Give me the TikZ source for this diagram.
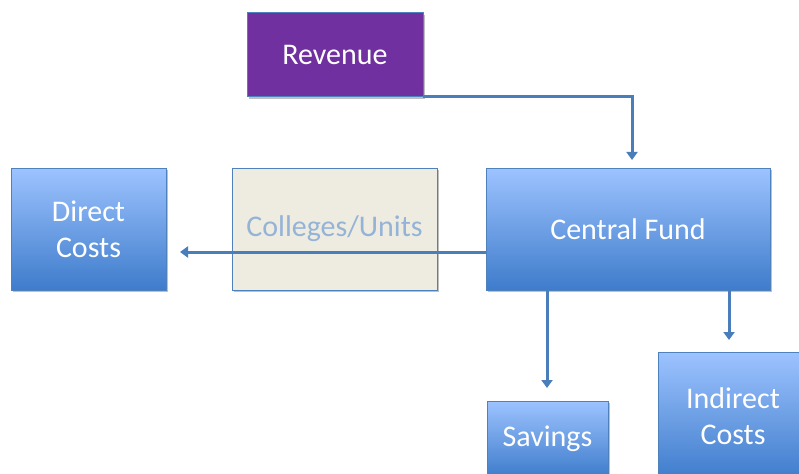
\documentclass[tikz,border=0pt]{standalone}
\usepackage{fontspec}
\setmainfont{Carlito}
\usetikzlibrary{arrows.meta,shadows}
\definecolor{boxline}{HTML}{4F81BD}
\definecolor{blueTop}{HTML}{9DC3FF}
\definecolor{blueBot}{HTML}{3E7CCB}
\definecolor{revfill}{HTML}{7030A0}
\definecolor{unitfill}{HTML}{EEECE1}
\definecolor{unittext}{HTML}{95B3D7}
\definecolor{flow}{HTML}{4A7EBB}
\tikzset{
  box/.style={draw=boxline, line width=1pt, inner sep=0pt, outer sep=0pt,
    anchor=north west, align=center, font=\fontsize{30}{36}\selectfont,
    drop shadow={shadow xshift=1.5pt, shadow yshift=-2pt, fill=black, opacity=0.25}},
  bluebox/.style={box, top color=blueTop, bottom color=blueBot, text=white},
  flowline/.style={draw=flow, line width=3pt,
    -{Triangle[width=11pt,length=8pt]}}
}
\begin{document}
\begin{tikzpicture}[x=1pt,y=-1pt]
\useasboundingbox (0,0) rectangle (799,473);
\clip (0,0) rectangle (799,473);
% boxes
\node[box, fill=revfill, text=white, minimum width=176pt, minimum height=84pt] (rev) at (247,13) {Revenue};
\node[bluebox, minimum width=155pt, minimum height=122pt] (direct) at (11,168) {Direct\\Costs};
\node[box, fill=unitfill, text=unittext, minimum width=205pt, minimum height=122pt] (units) at (232,168) {Colleges/Units};
\node[bluebox, minimum width=284pt, minimum height=122pt] (central) at (486,168) {Central Fund};
\node[bluebox, minimum width=121pt, minimum height=76pt] (save) at (487,401) {Savings};
\node[bluebox, minimum width=150pt, minimum height=128pt] (indirect) at (658,352) {Indirect\\Costs};
% connector endpoints
\coordinate (revTip) at (632,160);
\coordinate (dirTip) at (180,252);
\coordinate (saveTip) at (547,388);
\coordinate (indTip) at (729,340);
% flows
\draw[flowline] (rev.south east) -| (revTip);
\draw[flowline] (central.west |- dirTip) -- (dirTip);
\draw[flowline] (central.south -| saveTip) -- (saveTip);
\draw[flowline] (central.south -| indTip) -- (indTip);
\end{tikzpicture}
\end{document}
